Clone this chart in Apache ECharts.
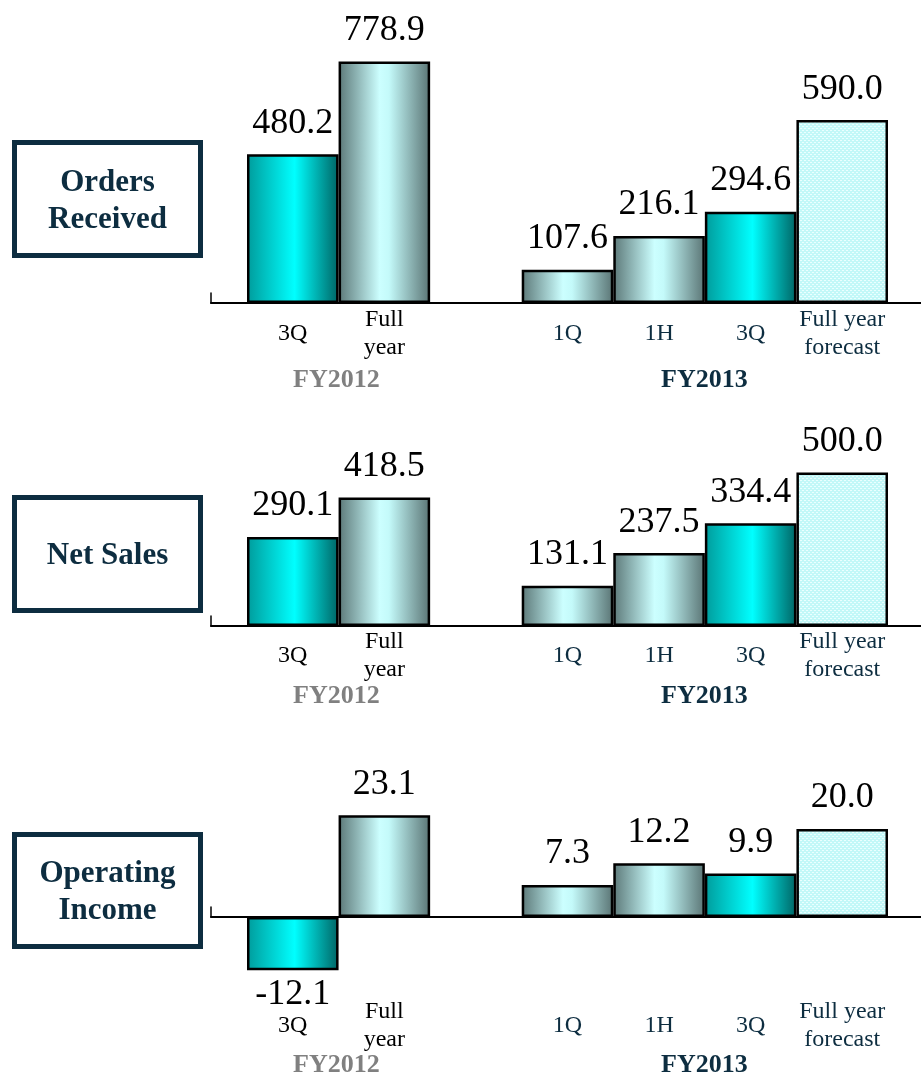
<!DOCTYPE html>
<html>
<head>
<meta charset="utf-8">
<script src="https://cdn.jsdelivr.net/npm/echarts@6/dist/echarts.min.js"></script>
<style>
  html, body { margin: 0; padding: 0; background: #fff; }
  #main { width: 921px; height: 1079px; }
</style>
</head>
<body>
<div id="main"></div>
<script>
// data
const categories = ['3Q', 'Full\nyear', '', '1Q', '1H', '3Q', 'Full year\nforecast'];
const ordersReceived = [480.2, 778.9, null, 107.6, 216.1, 294.6, 590.0];
const netSales = [290.1, 418.5, null, 131.1, 237.5, 334.4, 500.0];
const operatingIncome = [-12.1, 23.1, null, 7.3, 12.2, 9.9, 20.0];
const groupLabels = ['FY2012', 'FY2013'];
const panelTitles = ['Orders\nReceived', 'Net Sales', 'Operating\nIncome'];

// which fill each bar uses
const barKinds = ['teal', 'silver', null, 'silver', 'silver', 'teal', 'forecast'];

const SERIF = '"Liberation Serif", "Times New Roman", serif';
const NAVY = '#0d2d40';

function hGradient(stops) {
  return new echarts.graphic.LinearGradient(0, 0, 1, 0,
    stops.map(s => ({ offset: s[0], color: s[1] })));
}

// dotted light cyan fill for the forecast bar
function dotPattern() {
  const c = document.createElement('canvas');
  c.width = 4; c.height = 4;
  const ctx = c.getContext('2d');
  ctx.fillStyle = '#c2f8f8';
  ctx.fillRect(0, 0, 4, 4);
  ctx.fillStyle = '#eaffff';
  ctx.fillRect(0, 0, 2, 1);
  ctx.fillRect(2, 2, 2, 1);
  return { image: c, repeat: 'repeat' };
}

const fills = {
  teal: hGradient([[0, '#009b9b'], [0.52, '#00ffff'], [1, '#006464']]),
  silver: hGradient([[0, '#5c7878'], [0.45, '#ccffff'], [0.55, '#c4fafa'], [1, '#5a7474']]),
  forecast: dotPattern()
};

// layout of the three panels (y0 = pixel row of the zero line)
const panels = [
  { data: ordersReceived, y0: 303, min: 0, max: 800, k: 0.31, margin: 31, groupY: 381, box: [140, 258] },
  { data: netSales, y0: 626, min: 0, max: 800, k: 0.307, margin: 30, groupY: 697, box: [495, 613] },
  { data: operatingIncome, y0: 917, min: -15, max: 25, k: 4.4, margin: 43, groupY: 1066, box: [832, 949] }
];

const grid = [], xAxis = [], yAxis = [], series = [], graphic = [];

panels.forEach((p, i) => {
  grid.push({
    left: 247, right: 33,
    top: p.y0 - p.max * p.k,
    height: (p.max - p.min) * p.k
  });
  xAxis.push({
    type: 'category', gridIndex: i, data: categories,
    axisLine: { show: false, onZero: false },
    axisTick: { show: false },
    axisLabel: {
      interval: 0, margin: p.margin, verticalAlign: 'middle',
      fontFamily: SERIF, fontSize: 24, lineHeight: 28,
      color: (v, idx) => idx < 2 ? '#000' : NAVY
    }
  });
  yAxis.push({ type: 'value', gridIndex: i, min: p.min, max: p.max, show: false });
  series.push({
    type: 'bar', xAxisIndex: i, yAxisIndex: i,
    barCategoryGap: '0%',
    data: p.data.map((v, idx) => ({
      value: v,
      itemStyle: barKinds[idx] ? { color: fills[barKinds[idx]] } : undefined,
      label: v < 0 ? { distance: 6 } : undefined
    })),
    itemStyle: { borderColor: '#000', borderWidth: 2.5 },
    label: {
      show: true, position: 'outside', distance: 13,
      fontFamily: SERIF, fontSize: 36, color: '#000',
      formatter: d => d.value == null ? '' : d.value.toFixed(1)
    },
    z: 3
  });

  // group captions under the categories
  graphic.push({
    type: 'text', left: 338 - 45, top: p.groupY - 14,
    style: { text: groupLabels[0], font: 'bold 26px ' + SERIF, fill: '#808080', width: 90, align: 'center' }
  });
  graphic.push({
    type: 'text', left: 706 - 45, top: p.groupY - 14,
    style: { text: groupLabels[1], font: 'bold 26px ' + SERIF, fill: NAVY, width: 90, align: 'center' }
  });

  // framed panel title on the left
  const bTop = p.box[0], bBot = p.box[1];
  graphic.push({
    type: 'rect', shape: { x: 14.5, y: bTop + 2.5, width: 186, height: bBot - bTop - 5 },
    style: { fill: '#fff', stroke: NAVY, lineWidth: 5 }
  });
  graphic.push({
    type: 'text', x: 107.5, y: (bTop + bBot) / 2 + 2,
    style: {
      text: panelTitles[i], font: 'bold 31px ' + SERIF, fill: NAVY,
      align: 'center', verticalAlign: 'middle', lineHeight: 37
    }
  });
});

// baseline with the small stub at its left end, one per panel
panels.forEach((p, i) => {
  const gi = panels.length + i;
  grid.push({ left: 211, right: 0, top: p.y0 - 10, height: 10 });
  xAxis.push({
    type: 'value', gridIndex: gi, min: 0, max: 1,
    axisLine: { show: true, lineStyle: { color: '#000', width: 2 } },
    axisTick: { show: false }, axisLabel: { show: false }, splitLine: { show: false }
  });
  yAxis.push({
    type: 'value', gridIndex: gi, min: 0, max: 1,
    axisLine: { show: true, lineStyle: { color: '#000', width: 1.5 } },
    axisTick: { show: false }, axisLabel: { show: false }, splitLine: { show: false }
  });
});

const chart = echarts.init(document.getElementById('main'));
chart.setOption({
  animation: false,
  backgroundColor: '#fff',
  grid, xAxis, yAxis, series, graphic
});
</script>
</body>
</html>
